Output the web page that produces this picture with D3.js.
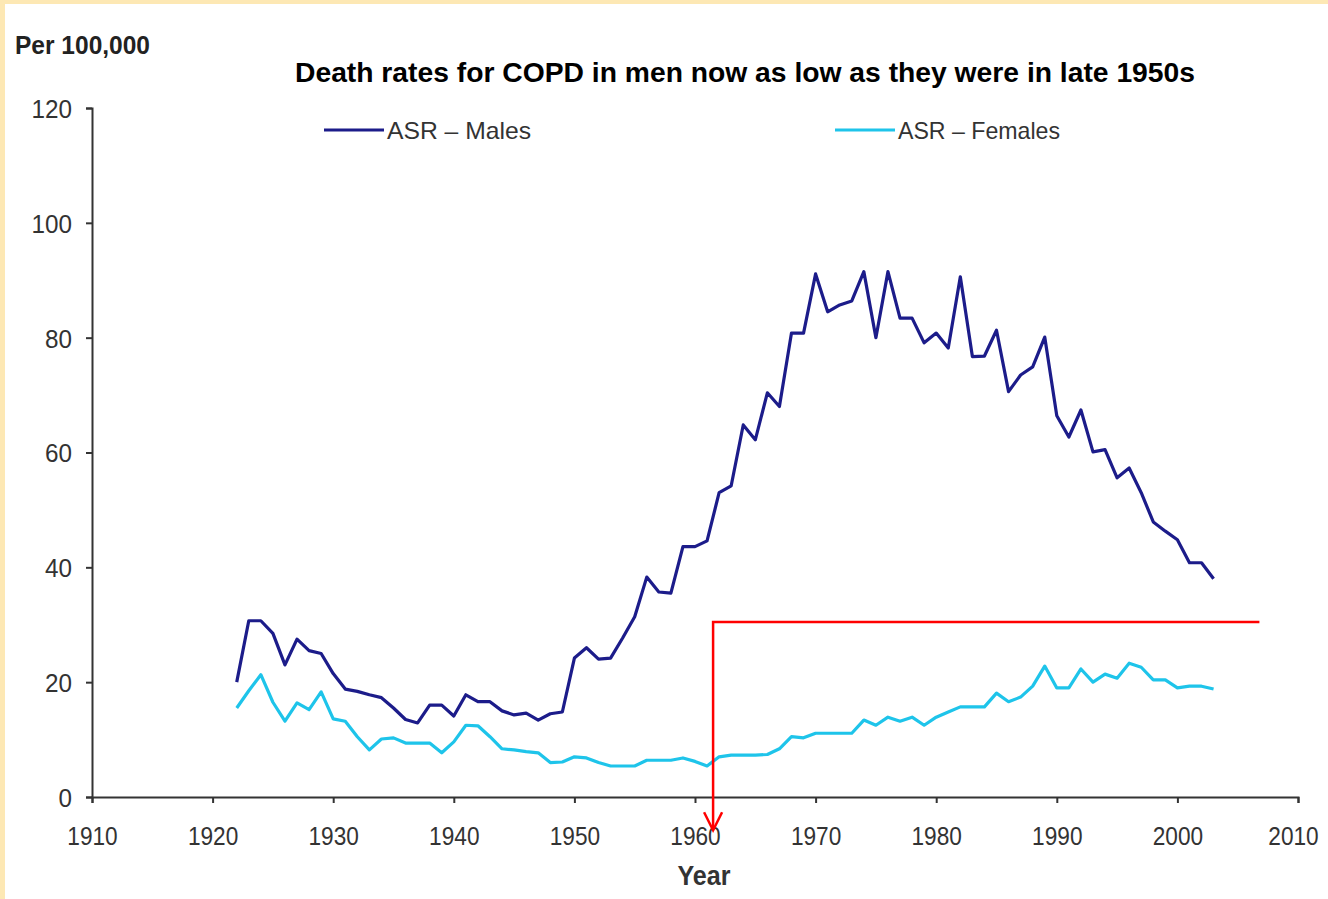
<!DOCTYPE html>
<html>
<head>
<meta charset="utf-8">
<script src="https://cdn.jsdelivr.net/npm/d3@7"></script>
<style>
  body { margin: 0; background: #fff; }
  svg { display: block; }
  .tick text { font-family: "Liberation Sans", Arial, sans-serif; font-size: 26px; fill: #333; }
  .tick line, .domain { stroke: #333; stroke-width: 2; }
</style>
</head>
<body>
<div id="app"></div>
<script>
// data: age standardised death rates, per 100,000
const years = [
  1922, 1923, 1924, 1925, 1926, 1927, 1928, 1929, 1930, 1931,
  1932, 1933, 1934, 1935, 1936, 1937, 1938, 1939, 1940, 1941,
  1942, 1943, 1944, 1945, 1946, 1947, 1948, 1949, 1950, 1951,
  1952, 1953, 1954, 1955, 1956, 1957, 1958, 1959, 1960, 1961,
  1962, 1963, 1964, 1965, 1966, 1967, 1968, 1969, 1970, 1971,
  1972, 1973, 1974, 1975, 1976, 1977, 1978, 1979, 1980, 1981,
  1982, 1983, 1984, 1985, 1986, 1987, 1988, 1989, 1990, 1991,
  1992, 1993, 1994, 1995, 1996, 1997, 1998, 1999, 2000, 2001,
  2002, 2003
]
const males = [
  20, 30.7, 30.7, 28.5, 23, 27.5, 25.5, 25, 21.5, 18.8,
  18.4, 17.8, 17.3, 15.5, 13.5, 12.9, 16, 16, 14.1, 17.8,
  16.6, 16.6, 15, 14.3, 14.6, 13.4, 14.5, 14.8, 24.2, 26,
  24, 24.2, 27.7, 31.4, 38.3, 35.7, 35.5, 43.6, 43.6, 44.6,
  53, 54.2, 64.8, 62.2, 70.4, 68, 80.8, 80.8, 91.1, 84.5,
  85.7, 86.4, 91.5, 80, 91.5, 83.4, 83.4, 79.1, 80.8, 78.2,
  90.6, 76.7, 76.8, 81.3, 70.6, 73.5, 74.9, 80.1, 66.4, 62.7,
  67.4, 60.1, 60.5, 55.6, 57.3, 53, 47.9, 46.3, 44.8, 40.8,
  40.8, 38
]
const females = [
  15.5, 18.5, 21.3, 16.5, 13.2, 16.4, 15.2, 18.3, 13.6, 13.2,
  10.5, 8.2, 10.1, 10.3, 9.4, 9.4, 9.4, 7.7, 9.6, 12.5,
  12.4, 10.5, 8.4, 8.2, 7.9, 7.7, 6, 6.1, 7, 6.8,
  6, 5.4, 5.4, 5.4, 6.4, 6.4, 6.4, 6.8, 6.2, 5.4,
  7, 7.3, 7.3, 7.3, 7.4, 8.4, 10.5, 10.3, 11.1, 11.1,
  11.1, 11.1, 13.4, 12.5, 13.9, 13.2, 13.9, 12.5, 13.9, 14.8,
  15.7, 15.7, 15.7, 18.1, 16.6, 17.4, 19.3, 22.8, 19, 19,
  22.3, 20, 21.4, 20.7, 23.3, 22.6, 20.4, 20.4, 19, 19.3,
  19.3, 18.8
]
const xTicks = [1910, 1920, 1930, 1940, 1950, 1960, 1970, 1980, 1990, 2000, 2010]
const yTicks = [0, 20, 40, 60, 80, 100, 120]
const seriesNames = ['ASR \u2013 Males', 'ASR \u2013 Females']
// red annotation: bracket from 1961.5 at level 30.5, arrow down past the axis
const markYear = [1961.5, 2006.8]
const markLevel = [30.5, -5.8]

const W = 1328
const H = 899
const narrow = '"Liberation Sans", Arial, sans-serif'

const svg = d3.select('#app')
  .append('svg')
  .attr('width', W)
  .attr('height', H)

// pale yellow frame on top and left
svg.append('rect').attr('x', 0).attr('y', 0).attr('width', W).attr('height', 4).attr('fill', '#fde8b4')
svg.append('rect').attr('x', 0).attr('y', 0).attr('width', 5).attr('height', H).attr('fill', '#fde8b4')

const x = d3.scaleLinear().domain([1910, 2010]).range([92, 1298])
const y = d3.scaleLinear().domain([0, 120]).range([797, 108])

// squeeze glyphs a bit, the original uses a narrow face
function squeeze(sel, perChar) {
  sel.each(function () {
    const t = d3.select(this)
    t.attr('textLength', t.text().length * perChar).attr('lengthAdjust', 'spacingAndGlyphs')
  })
}

const xAxisG = svg.append('g')
  .attr('transform', `translate(0, ${y(0)})`)
  .call(d3.axisBottom(x).tickValues(xTicks).tickFormat(d3.format('d')).tickSize(6).tickSizeOuter(6).tickPadding(24))
xAxisG.selectAll('.tick text').call(squeeze, 12.6)
// last label sits right against the picture edge, pull it in a touch
xAxisG.selectAll('.tick text').filter(d => d === 2010).attr('dx', -5)

svg.append('g')
  .attr('transform', `translate(${x(1910)}, 0)`)
  .call(d3.axisLeft(y).tickValues(yTicks).tickSize(6).tickSizeOuter(6).tickPadding(14))
  .selectAll('.tick text')
  .attr('dy', '0.36em')
  .call(squeeze, 13.5)

svg.append('text')
  .attr('x', 15)
  .attr('y', 54)
  .attr('font-family', narrow)
  .attr('font-weight', 'bold')
  .attr('font-size', 25)
  .attr('fill', '#222')
  .attr('textLength', 135)
  .attr('lengthAdjust', 'spacingAndGlyphs')
  .text('Per 100,000')

svg.append('text')
  .attr('x', 745)
  .attr('y', 82)
  .attr('text-anchor', 'middle')
  .attr('font-family', '"Liberation Sans", Arial, sans-serif')
  .attr('font-weight', 'bold')
  .attr('font-size', 28)
  .attr('fill', '#000')
  .attr('textLength', 900)
  .attr('lengthAdjust', 'spacingAndGlyphs')
  .text('Death rates for COPD in men now as low as they were in late 1950s')

svg.append('text')
  .attr('x', 704)
  .attr('y', 885)
  .attr('text-anchor', 'middle')
  .attr('font-family', narrow)
  .attr('font-weight', 'bold')
  .attr('font-size', 27)
  .attr('fill', '#333')
  .attr('textLength', 53)
  .attr('lengthAdjust', 'spacingAndGlyphs')
  .text('Year')

const colors = ['#1c1c8a', '#1ec4ea']
const line = d3.line()
  .x((d, i) => x(years[i]))
  .y(d => y(d))

;[males, females].forEach((vals, k) => {
  svg.append('path')
    .datum(vals)
    .attr('fill', 'none')
    .attr('stroke', colors[k])
    .attr('stroke-width', 3.2)
    .attr('stroke-linejoin', 'round')
    .attr('d', line)
})

// legend
const legendX = [324, 835]
const legendTextW = [144, 162]
seriesNames.forEach((name, k) => {
  const g = svg.append('g').attr('transform', `translate(${legendX[k]}, 130)`)
  g.append('line')
    .attr('x1', 0).attr('x2', 60)
    .attr('stroke', colors[k])
    .attr('stroke-width', 3)
  g.append('text')
    .attr('x', 63)
    .attr('dy', '0.36em')
    .attr('font-family', narrow)
    .attr('font-size', 24)
    .attr('fill', '#333')
    .attr('textLength', legendTextW[k])
    .attr('lengthAdjust', 'spacingAndGlyphs')
    .text(name)
})

// red annotation
const red = '#ff0000'
svg.append('path')
  .attr('fill', 'none')
  .attr('stroke', red)
  .attr('stroke-width', 2.5)
  .attr('d', d3.line()([
    [x(markYear[1]), y(markLevel[0])],
    [x(markYear[0]), y(markLevel[0])],
    [x(markYear[0]), y(markLevel[1])]
  ]))
svg.append('path')
  .attr('fill', 'none')
  .attr('stroke', red)
  .attr('stroke-width', 2.5)
  .attr('d', d3.line()([
    [x(markYear[0]) - 9, y(markLevel[1]) - 18],
    [x(markYear[0]), y(markLevel[1])],
    [x(markYear[0]) + 9, y(markLevel[1]) - 18]
  ]))
</script>
</body>
</html>
